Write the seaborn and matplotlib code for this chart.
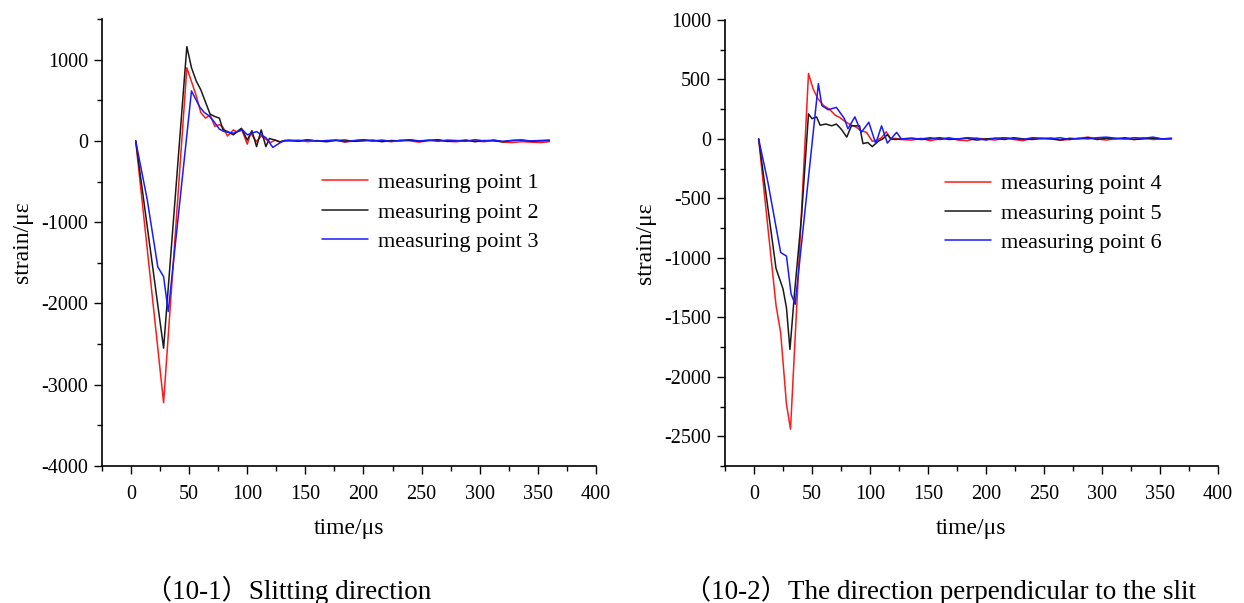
import numpy as np
import pandas as pd
import matplotlib
matplotlib.use('Agg')
import matplotlib.pyplot as plt
import seaborn as sns
from matplotlib.ticker import MultipleLocator
from matplotlib.lines import Line2D

sns.set_style('ticks')
plt.rcParams['font.family'] = ['Liberation Serif', 'Noto Sans CJK SC', 'DejaVu Sans']
plt.rcParams['axes.unicode_minus'] = False
plt.rcParams['text.color'] = 'black'
plt.rcParams['axes.labelcolor'] = 'black'
plt.rcParams['xtick.color'] = 'black'
plt.rcParams['ytick.color'] = 'black'

# ---------------- data: panel 10-1 (slitting direction) ----------------
tail_t_left = [136, 144, 152, 160, 168, 176, 184, 192, 200, 208, 216, 224, 232, 240, 248,
               256, 264, 272, 280, 288, 296, 304, 312, 320, 328, 336, 344, 352, 360]

p1_t = [4, 28, 48, 52, 56, 60, 64, 68, 72, 76, 79, 83, 88, 91, 95, 100, 103, 108, 112,
        116, 120, 124, 128, 132]
p1_v = [0, -3220, 900, 730, 560, 350, 280, 320, 180, 200, 170, 60, 135, 110, 150, -40, 95,
        -10, 60, 20, -20, 10, -15, 5]
p1_tail = [0, 10, -10, 5, -5, 10, -15, 0, 15, -5, 5, -10, 10, 0, -15, 5, 10, -5, -10, 5, 0,
           -10, 10, -15, -20, -10, -15, -20, -10]

p2_t = [4, 28, 48, 52, 56, 60, 64, 68, 72, 76, 79, 83, 88, 95, 100, 104, 108, 112, 116,
        119, 124, 128, 132]
p2_v = [0, -2550, 1160, 900, 740, 630, 480, 330, 300, 280, 140, 115, 75, 155, 10, 125, -70,
        135, -70, 30, 10, -10, 0]
p2_tail = [5, -5, 10, 0, -10, 5, 10, -5, 0, 10, -10, 5, 0, 10, -5, 5, 15, -5, 0, 10, -10, 5,
           0, -10, 5, 10, -5, 0, 5]

p3_t = [4, 14, 23, 28, 32, 52, 59, 63, 67, 71, 76, 80, 88, 96, 100, 108, 112, 116, 122, 128, 132]
p3_v = [0, -730, -1550, -1670, -2100, 615, 420, 350, 310, 245, 145, 115, 95, 135, 75, 115, 75,
        40, -80, -25, 5]
p3_tail = [10, 0, 15, -5, 5, 10, -10, 5, 15, 0, 10, -5, 5, 15, 0, 10, -5, 10, 5, -5, 15, 0,
           10, -5, 5, 10, 0, 5, 10]

# ---------------- data: panel 10-2 (perpendicular to the slit) ----------------
tail_t_right = tail_t_left

p4_t = [4, 19, 23, 28, 31.5, 47, 51, 55, 60, 65, 70, 74, 78, 83, 88, 92, 97, 102, 106, 110,
        114, 118, 122, 126]
p4_v = [0, -1400, -1630, -2230, -2440, 550, 420, 340, 280, 250, 200, 180, 150, 120, 100, 70,
        55, -20, -10, 10, 60, 0, 5, -5]
p4_tail = [-10, 5, -15, 0, 10, -10, -15, 5, 0, -10, 10, -5, -15, 5, 0, 10, -10, -5, 5, 15, 0,
           -10, 5, 0, -5, 10, -5, 0, 5]

p5_t = [4, 19, 25, 28, 31, 35, 41, 47, 50, 54, 57, 62, 67, 71, 75, 80, 84, 91, 94, 98, 102,
        107, 111, 115, 118, 122, 126]
p5_v = [0, -1090, -1260, -1420, -1770, -1290, -650, 210, 170, 185, 115, 125, 110, 125, 85, 15,
        110, 110, -40, -30, -65, -20, 0, 35, 0, -5, 0]
p5_tail = [5, -5, 0, 10, -5, 0, 5, -10, 0, 5, -5, 10, 0, -5, 5, 0, -10, 5, 0, 10, -5, 5, 0,
           10, -5, 0, 5, 0, 0]

p6_t = [4, 12, 23, 28, 32, 35.5, 55.5, 58.5, 64, 71, 78, 81, 87, 92.5, 99, 105, 110, 115, 123, 127]
p6_v = [0, -365, -955, -985, -1305, -1390, 465, 280, 245, 265, 170, 85, 185, 55, 140, -40,
        110, -35, 55, 0]
p6_tail = [5, 0, 10, -5, 5, 0, 10, 5, -10, 5, 10, 0, -5, 10, 5, 0, 10, -5, 5, 0, 10, 15, 5,
           0, 10, 5, 15, 0, 5]

labels_left = ['measuring point 1', 'measuring point 2', 'measuring point 3']
labels_right = ['measuring point 4', 'measuring point 5', 'measuring point 6']
colors = ['#ff1a1a', '#1a1a1a', '#1a1aff']

x_ticks = [0, 50, 100, 150, 200, 250, 300, 350, 400]
y_ticks_left = [-4000, -3000, -2000, -1000, 0, 1000]
y_ticks_right = [-2500, -2000, -1500, -1000, -500, 0, 500, 1000]

captions = ['（10-1）Slitting direction', '（10-2）The direction perpendicular to the slit']


def build(series_t, series_v, tails, tail_t, labels):
    frames = []
    for t, v, tl, lab in zip(series_t, series_v, tails, labels):
        frames.append(pd.DataFrame({'time': list(t) + list(tail_t),
                                    'strain': list(v) + list(tl),
                                    'series': lab}))
    return pd.concat(frames, ignore_index=True)


df_left = build([p1_t, p2_t, p3_t], [p1_v, p2_v, p3_v], [p1_tail, p2_tail, p3_tail],
                tail_t_left, labels_left)
df_right = build([p4_t, p5_t, p6_t], [p4_v, p5_v, p6_v], [p4_tail, p5_tail, p6_tail],
                 tail_t_right, labels_right)

fig = plt.figure(figsize=(12.44, 6.03), dpi=100)
ax1 = fig.add_axes([0.082, 0.2272, 0.397, 0.7413])
ax2 = fig.add_axes([0.5828, 0.2272, 0.3962, 0.7397])

panels = [
    (ax1, df_left, labels_left, (-4000, 1500), y_ticks_left, 500, (0.427, 0.676)),
    (ax2, df_right, labels_right, (-2750, 1000), y_ticks_right, 250, (0.428, 0.675)),
]

for ax, df, labs, ylim, yt, yminor, lpos in panels:
    sns.lineplot(data=df, x='time', y='strain', hue='series', hue_order=labs,
                 palette=colors, estimator=None, sort=False, linewidth=1.1,
                 legend=False, ax=ax)
    ax.set_xlim(-25, 400)
    ax.set_ylim(*ylim)
    ax.set_xticks(x_ticks)
    ax.set_yticks(yt)
    ax.xaxis.set_minor_locator(MultipleLocator(25))
    ax.yaxis.set_minor_locator(MultipleLocator(yminor))
    ax.tick_params(which='major', direction='out', length=6, width=1, labelsize=14.5,
                   colors='black')
    ax.tick_params(axis='x', which='major', pad=8)
    ax.tick_params(axis='y', which='major', pad=4)
    ax.tick_params(which='minor', direction='out', length=3.5, width=1, colors='black')
    for s in ['top', 'right']:
        ax.spines[s].set_visible(False)
    for s in ['left', 'bottom']:
        ax.spines[s].set_color('black')
        ax.spines[s].set_linewidth(1.2)
    ax.set_xlabel('time/μs', fontsize=17, labelpad=10, color='black')
    ax.set_ylabel('strain/με', fontsize=17, labelpad=6, color='black')
    handles = [Line2D([0], [0], color=c, lw=1.1) for c in colors]
    leg = ax.legend(handles, labs, loc='upper left', bbox_to_anchor=lpos,
                    frameon=False, fontsize=16, handlelength=2.07, handletextpad=0.45,
                    labelspacing=0.4, borderaxespad=0)
    for txt in leg.get_texts():
        txt.set_color('black')

fig.text(0.2315, 0.0216, captions[0], ha='center', va='center', fontsize=19.5, color='black')
fig.text(0.7556, 0.0216, captions[1], ha='center', va='center', fontsize=19.5, color='black')

fig.savefig('out.png', dpi=100, facecolor='white')
